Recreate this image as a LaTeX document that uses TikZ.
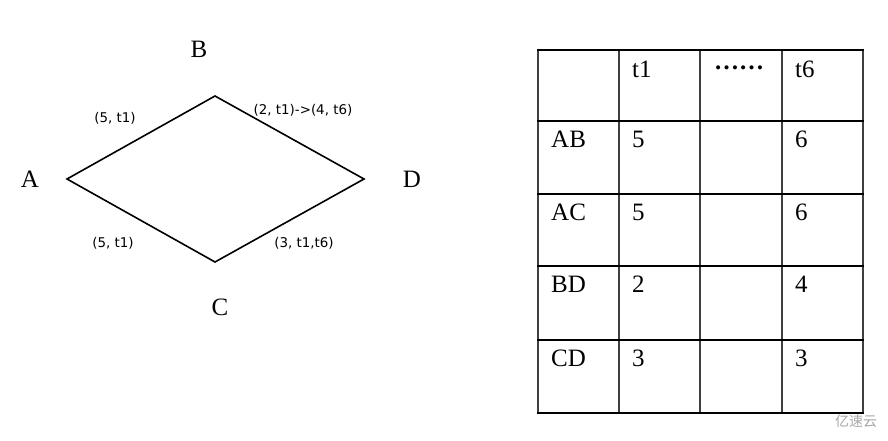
\documentclass[tikz,border=0pt]{standalone}
\usepackage{fontspec}
\setmainfont{Liberation Serif}
\newfontfamily\lblfont{DejaVu Sans}
\newfontfamily\cjk{Noto Sans CJK SC}
\begin{document}
\begin{tikzpicture}[x=1pt,y=-1pt,
  vlabel/.style={font=\fontsize{25}{25}\selectfont, inner sep=0pt},
  elabel/.style={font=\lblfont\fontsize{13.4}{13.4}\selectfont, inner sep=0pt},
  edge/.style={line width=1.6pt, line join=miter},
  hline/.style={line width=2pt, black},
  vline/.style={line width=1.2pt, black!75},
  cell/.style={font=\fontsize{25}{25}\selectfont, inner sep=0pt, anchor=base west}]
\useasboundingbox (0,0) rectangle (888,441);
% graph
\coordinate (pA) at (67,179);
\coordinate (pB) at (215,96);
\coordinate (pD) at (364,179);
\coordinate (pC) at (215,262);
\draw[edge] (pA) -- (pB) -- (pD) -- (pC) -- cycle;
\node[vlabel] (A) at (30,179) {A};
\node[vlabel] (B) at (199,49) {B};
\node[vlabel] (C) at (220,307) {C};
\node[vlabel] (D) at (412,179) {D};
\node[elabel] (lab) at (115,118) {(5, t1)};
\node[elabel] (lbd) at (303,110) {(2, t1)->(4, t6)};
\node[elabel] (lac) at (113,243) {(5, t1)};
\node[elabel] (lcd) at (304,243) {(3, t1,t6)};
% table
\foreach \x in {538,619,700,782,863} \draw[vline] (\x,50) -- (\x,413);
\foreach \y in {50,121,194,266,340,413} \draw[hline] (537,\y) -- (864,\y);
\node[cell] (h1) at (632,78) {t1};
\node[cell] (h2) at (714,70) {\textbf{……}};
\node[cell] (h3) at (795,78) {t6};
\node[cell] (r1) at (551,147) {AB};
\node[cell] (r1a) at (632,147) {5};
\node[cell] (r1b) at (795,147) {6};
\node[cell] (r2) at (551,220) {AC};
\node[cell] (r2a) at (632,220) {5};
\node[cell] (r2b) at (795,220) {6};
\node[cell] (r3) at (551,292) {BD};
\node[cell] (r3a) at (632,292) {2};
\node[cell] (r3b) at (795,292) {4};
\node[cell] (r4) at (551,366) {CD};
\node[cell] (r4a) at (632,366) {3};
\node[cell] (r4b) at (795,366) {3};
% watermark
\node[font=\cjk\fontsize{14}{14}\selectfont, text=black!35, inner sep=0pt] (wm) at (856,421) {亿速云};
\end{tikzpicture}
\end{document}
